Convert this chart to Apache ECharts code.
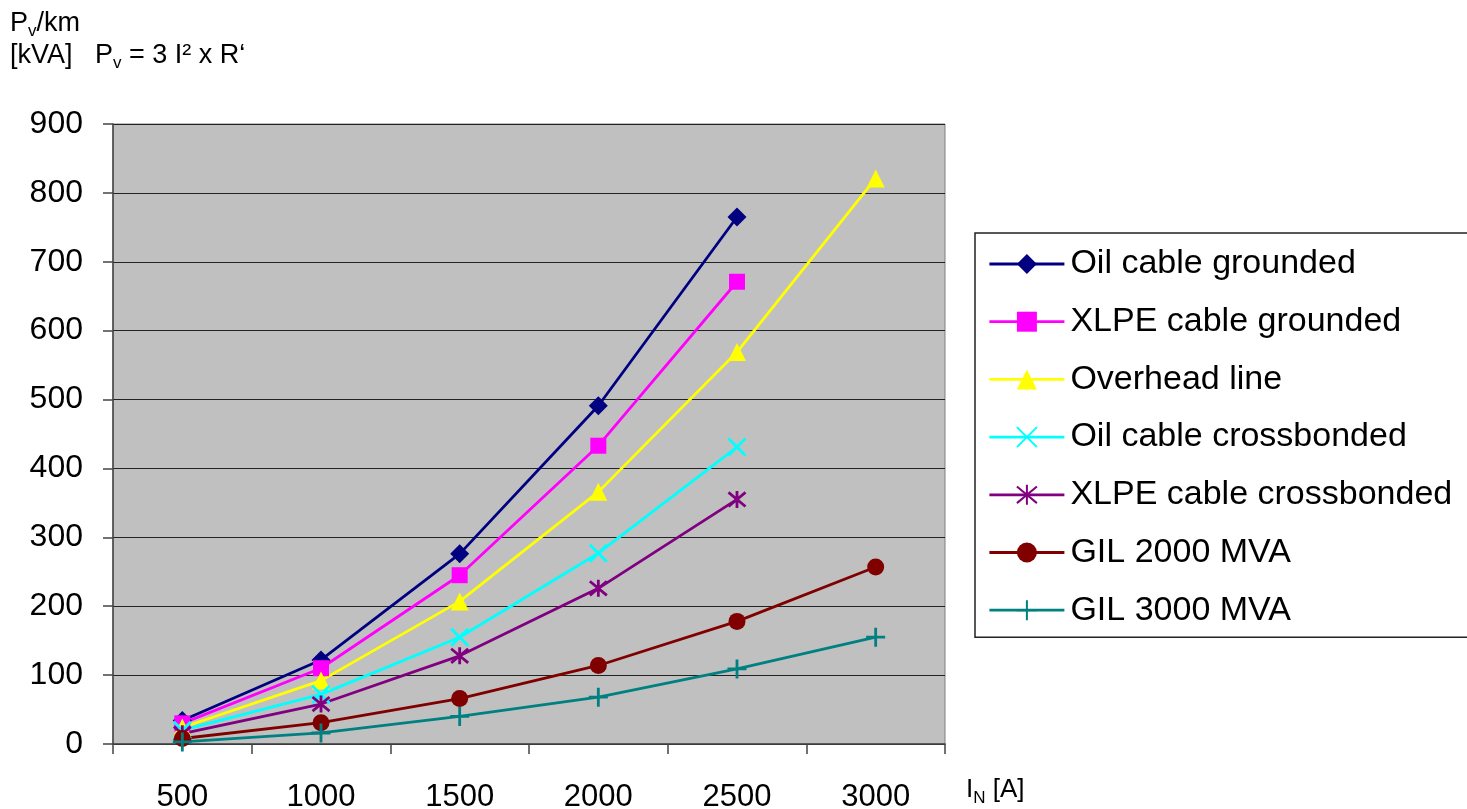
<!DOCTYPE html>
<html>
<head>
<meta charset="utf-8">
<script src="https://cdn.jsdelivr.net/npm/echarts@6/dist/echarts.min.js"></script>
<style>
html,body{margin:0;padding:0;background:#fff;}
#chart{width:1467px;height:809px;}
</style>
</head>
<body>
<div id="chart"></div>
<script>
var categories = ['500', '1000', '1500', '2000', '2500', '3000'];
var yTicks = [0, 100, 200, 300, 400, 500, 600, 700, 800, 900];

var oilGrounded      = [34, 122, 276, 491, 765];
var xlpeGrounded     = [30, 110, 245, 433, 671];
var overheadLine     = [24, 92, 207, 366, 569, 821];
var oilCrossbonded   = [20, 72, 155, 277, 431];
var xlpeCrossbonded  = [15, 58, 128, 226, 355];
var gil2000          = [8, 31, 66, 114, 178, 257];
var gil3000          = [3, 16, 40, 68, 109, 155];

var seriesNames = ['Oil cable grounded', 'XLPE cable grounded', 'Overhead line',
  'Oil cable crossbonded', 'XLPE cable crossbonded', 'GIL 2000 MVA', 'GIL 3000 MVA'];
var seriesData = [oilGrounded, xlpeGrounded, overheadLine, oilCrossbonded, xlpeCrossbonded, gil2000, gil3000];
var seriesColors = ['#000080', '#FF00FF', '#FFFF00', '#00FFFF', '#800080', '#800000', '#008080'];
var symbols = ['diamond', 'rect', 'triangle',
  'path://M0,0L10,10M10,0L0,10',
  'path://M0,0L10,10M10,0L0,10M5,-1L5,11',
  'circle',
  'path://M5,0L5,10M1,5L9,5'];
var symbolSizes = [19, 16, 18, 17, 17, 17, 19];
var strokeSymbol = [false, false, false, true, true, false, true];

var FONT = '"Liberation Sans", Arial, sans-serif';

var chart = echarts.init(document.getElementById('chart'));

var series = seriesNames.map(function (name, i) {
  return {
    name: name,
    type: 'line',
    data: seriesData[i],
    symbol: symbols[i],
    symbolSize: symbolSizes[i],
    showAllSymbol: true,
    animation: false,
    lineStyle: { color: seriesColors[i], width: 2.8 },
    itemStyle: strokeSymbol[i]
      ? { color: 'none', borderColor: seriesColors[i], borderWidth: 2.8 }
      : { color: seriesColors[i], borderWidth: 0 },
    emphasis: { disabled: true }
  };
});

chart.setOption({
  animation: false,
  backgroundColor: '#ffffff',
  textStyle: { fontFamily: FONT },
  grid: {
    left: 113, top: 124, right: 522, bottom: 65,
    outerBoundsMode: 'none',
    containLabel: false,
    show: true, backgroundColor: '#C0C0C0', borderColor: '#808080', borderWidth: 1
  },
  xAxis: {
    type: 'category',
    data: categories,
    boundaryGap: true,
    axisLine: { lineStyle: { color: '#444', width: 1.5 } },
    axisTick: { show: true, length: 10, lineStyle: { color: '#444', width: 1.5 } },
    axisLabel: { color: '#000', fontSize: 31, fontFamily: FONT, margin: 38 },
    splitLine: { show: false }
  },
  yAxis: {
    type: 'value',
    min: 0, max: 900, interval: 100,
    axisLine: { show: true, lineStyle: { color: '#444', width: 1.5 } },
    axisTick: { show: true, length: 10, lineStyle: { color: '#444', width: 1.5 } },
    axisLabel: {
      color: '#000', fontSize: 32, fontFamily: FONT, margin: 30,
      formatter: function (v) { return yTicks.indexOf(v) >= 0 ? String(v) : ''; }
    },
    splitLine: { show: true, lineStyle: { color: '#222', width: 1 } }
  },
  legend: {
    orient: 'vertical',
    left: 975, top: 233,
    backgroundColor: '#ffffff',
    borderColor: '#222', borderWidth: 1.5,
    padding: [13, 60, 9, 13],
    itemWidth: 75, itemHeight: 25, itemGap: 21.7,
    lineStyle: { width: 2.8 },
    textStyle: { fontSize: 34, color: '#000', fontFamily: FONT, lineHeight: 36, padding: [0, 0, 0, 1] },
    data: seriesNames,
    selectedMode: false
  },
  graphic: [
    {
      type: 'text', left: 10, top: 10,
      style: {
        text: 'P{s|v}/km',
        font: '27px ' + FONT, fill: '#000',
        rich: { s: { fontSize: 17, fontFamily: FONT, padding: [16, 0, 0, 0] } }
      }
    },
    {
      type: 'text', left: 10, top: 42,
      style: {
        text: '[kVA]   P{s|v} = 3 I² x R‘',
        font: '27px ' + FONT, fill: '#000',
        rich: { s: { fontSize: 17, fontFamily: FONT, padding: [16, 0, 0, 0] } }
      }
    },
    {
      type: 'text', left: 966, top: 777,
      style: {
        text: 'I{s|N} [A]',
        font: '26px ' + FONT, fill: '#000',
        rich: { s: { fontSize: 17, fontFamily: FONT, padding: [16, 0, 0, 0] } }
      }
    }
  ],
  series: series
});
</script>
</body>
</html>
